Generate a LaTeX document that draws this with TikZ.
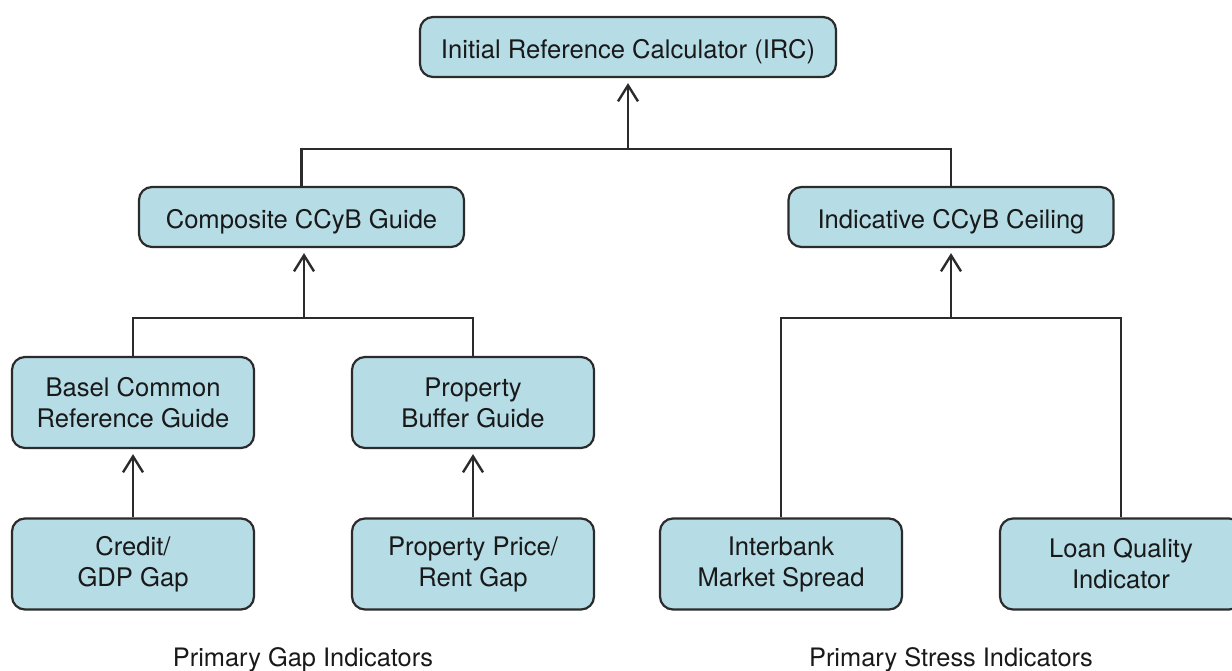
\documentclass[tikz,border=0pt]{standalone}
\usepackage{fontspec}
\setmainfont{TeX Gyre Heros}
\usetikzlibrary{arrows.meta}
\definecolor{boxfill}{HTML}{B6DCE6}
\definecolor{linec}{HTML}{2B2B2B}
\begin{document}
\begin{tikzpicture}[x=1pt,y=-1pt,
  box/.style={draw=linec, fill=boxfill, line width=2.2pt, rounded corners=13pt,
    align=center, inner sep=0pt, font=\fontsize{25.6}{31}\selectfont, text=black!90},
  wide/.style={box, minimum width=325pt, minimum height=60pt, text height=24pt, text depth=0pt},
  tall/.style={box, minimum width=242pt, minimum height=91pt},
  conn/.style={draw=linec, line width=2.4pt},
  arr/.style={conn, shorten >=5pt, -{Straight Barb[length=16pt,width=20pt,line width=2.4pt]}},
  lbl/.style={font=\fontsize{25.4}{30}\selectfont, text=black!90}]
\useasboundingbox (0,0) rectangle (1232,671);
\clip (0,0) rectangle (1232,671);
\node[wide, minimum width=416pt] (irc) at (628,47) {Initial Reference Calculator (IRC)};
\node[wide] (comp) at (301.5,217) {Composite CCyB Guide};
\node[wide] (ind) at (951,217) {Indicative CCyB Ceiling};
\node[tall] (basel) at (133,402.5) {Basel Common\\Reference Guide};
\node[tall] (pbg) at (473,402.5) {Property\\Buffer Guide};
\node[tall] (credit) at (133,564) {Credit/\\GDP Gap};
\node[tall] (ppr) at (473,564) {Property Price/\\Rent Gap};
\node[tall] (inter) at (781,564) {Interbank\\Market Spread};
\node[tall] (loan) at (1121,564) {Loan Quality\\Indicator};
\node[lbl] (gaplbl) at (303,660) {Primary Gap Indicators};
\node[lbl] (strlbl) at (951,660) {Primary Stress Indicators};
% top level
\coordinate (j1) at (628,149);
\draw[conn] (comp.north) |- (j1) -| (ind.north);
\draw[arr] (j1) -- (irc.south);
% composite level
\coordinate (j2) at (304,318);
\draw[conn] (basel.north) |- (j2) -| (pbg.north);
\draw[arr] (j2) -- (j2 |- comp.south);
% indicative level
\coordinate (j3) at (951,318);
\draw[conn] (inter.north) |- (j3) -| (loan.north);
\draw[arr] (j3) -- (ind.south);
% bottom arrows
\draw[arr] (credit.north) -- (basel.south);
\draw[arr] (ppr.north) -- (pbg.south);
\end{tikzpicture}
\end{document}
